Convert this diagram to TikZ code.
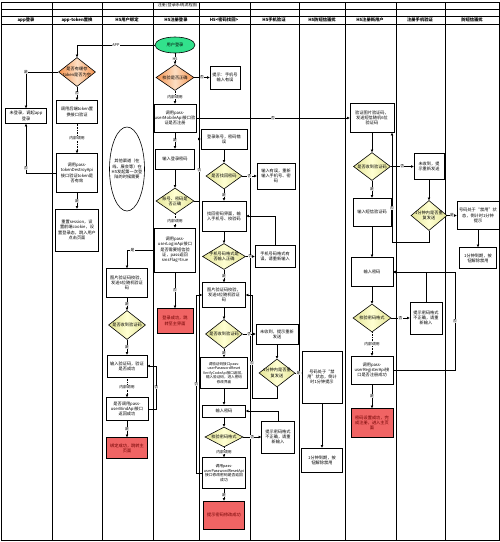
\documentclass[tikz,border=0pt]{standalone}
\usepackage{fontspec}
\setmainfont{Noto Sans CJK SC}
\usepackage{tikz}
\usetikzlibrary{arrows.meta,shapes.geometric}

\definecolor{dOrange}{RGB}{245,145,75}
\definecolor{dPeach}{RGB}{252,222,195}
\definecolor{dKhaki}{RGB}{228,228,150}
\definecolor{dCream}{RGB}{255,255,210}
\definecolor{okRed}{RGB}{240,100,100}
\definecolor{okText}{RGB}{110,0,0}
\definecolor{startGreen}{RGB}{50,225,140}

\begin{document}
\begin{tikzpicture}[x=1pt,y=-1pt,
    every node/.style={font=\fontsize{4.2}{5.2}\selectfont},
    box/.style={draw, line width=0.6pt, fill=white, align=center, inner sep=0.5pt},
    okbox/.style={box, fill=okRed, text=okText},
    dia/.style={diamond, draw, line width=0.6pt, inner sep=0pt},
    ydia/.style={dia, left color=dKhaki, right color=dKhaki, middle color=dCream},
    odia/.style={dia, left color=dOrange, right color=dOrange, middle color=dPeach},
    dtxt/.style={align=center, inner sep=0pt},
    arr/.style={-{Triangle[length=2.6pt,width=2.4pt]}, line width=0.55pt},
    call/.style={arr, densely dotted},
    lbl/.style={fill=white, inner sep=0.3pt, font=\fontsize{3.8}{4.5}\selectfont},
    lanehead/.style={font=\bfseries\fontsize{4.3}{5}\selectfont}
  ]
    \useasboundingbox (0,0) rectangle (500,542);
    % frame and swimlanes
    \draw[line width=0.75pt] (1,2) rectangle (499,540);
    \foreach \x in {52,102,153,199,250,299,345,396,445}
      \draw[line width=0.75pt] (\x,2) -- (\x,540);
    \foreach \y in {9,16,24}
      \draw[line width=0.6pt] (1,\y) -- (499,\y);
    \node[anchor=west] (title) at (154,5.5) {注册/登录系统流程图};
    \foreach \x/\t [count=\i] in {26/app登录, 77/app-token置换, 127/H5用户绑定,
        176/H5注册登录, 224/H5<密码找回>, 274/H5手机验证, 322/H5防短信骚扰,
        370/H5注册新用户, 420/注册手机验证, 472/防短信骚扰}
      \node[lanehead] (lane\i) at (\x,20) {\t};

    % app login
    \node[box, minimum width=41, minimum height=15] (nologin) at (26,116) {未登录，调起app\\登录};
    \node[odia, minimum width=37, minimum height=29, label={[dtxt]center:{是否有缓存\\token是否为空}}] (hastoken) at (77,72) {};
    \node[box, minimum width=41, minimum height=23] (swap) at (77,112) {调用后端token置\\换接口验证};
    \node[box, minimum width=41, minimum height=39] (destroy) at (77,173) {调用pass-\\tokenDestroyApi\\接口验证token是\\否有效};
    \node[box, minimum width=43, minimum height=42] (reset) at (77,230) {重置session，设\\置前端cookie，设\\置登录态，跳入用户\\点击页面};

    % H5 binding
    \node[draw, ellipse, line width=0.6pt, minimum width=35, minimum height=84, inner sep=0pt,
      label={[dtxt]center:{其他渠道（在\\线、展会等）在\\H5发起第一次登\\陆的时候需要}}] (other) at (127,169) {};
    \node[box, minimum width=41, minimum height=29] (imgcode1) at (127,283) {图片验证码校验，\\发送6位随机验证\\码};
    \node[ydia, minimum width=37, minimum height=29, label={[dtxt]center:是否收到验证码}] (gotcode1) at (127,325) {};
    \node[box, minimum width=40, minimum height=22] (inputcode1) at (127,366) {输入验证码，验证\\是否成功};
    \node[box, minimum width=42, minimum height=23] (bind) at (127,409) {是否调用pass-\\userBindApi接口\\返回成功};
    \node[okbox, minimum width=41, minimum height=21] (bindok) at (127,448) {绑定成功，跳转主\\页面};

    % H5 login
    \node[ellipse, draw, fill=startGreen, line width=0.6pt, minimum width=40, minimum height=16, inner sep=0pt] (start) at (175,45) {用户登录};
    \node[odia, minimum width=38, minimum height=26, label={[dtxt]center:校验是否正确}] (chkfmt) at (175,77.5) {};
    \node[box, minimum width=41, minimum height=28] (mobileapi) at (175,118) {调用pass-\\userMobileApi接口验\\证是否注册};
    \node[box, minimum width=39, minimum height=20] (inpwd0) at (175,159) {输入登录密码};
    \node[ydia, minimum width=38, minimum height=26, label={[dtxt]center:{账号、密码是\\否正确}}] (pwdok) at (175,201) {};
    \node[box, minimum width=41, minimum height=44] (loginapi) at (175,250) {调用pass-\\userLoginApi接口\\是否需要短信验\\证，pass返回\\smsFlag=true};
    \node[okbox, minimum width=36, minimum height=25] (loginok) at (175,321) {登录成功，跳\\转至主界面};

    % H5 password
    \node[box, minimum width=30, minimum height=23] (mobileerr) at (225,77.5) {提示：手机号\\输入有误};
    \node[box, minimum width=46, minimum height=20] (pwderr) at (224,139) {登录账号，密码错\\误};
    \node[ydia, minimum width=36, minimum height=26, label={[dtxt]center:是否找回密码}] (findq) at (224,176) {};
    \node[box, minimum width=44, minimum height=30] (findpwd) at (224,216) {找回密码界面，输\\入手机号、校验码};
    \node[ydia, minimum width=43, minimum height=26, label={[dtxt]center:{手机号码格式是\\否输入正确}}] (mobfmt) at (224,256.5) {};
    \node[box, minimum width=43, minimum height=25] (imgcode2) at (224,295) {图片验证码校验，\\发送6位随机验证\\码};
    \node[ydia, minimum width=37, minimum height=29, label={[dtxt]center:是否收到验证码}] (gotcode2) at (224,334) {};
    \node[box, minimum width=47, minimum height=31, font=\fontsize{3.6}{4.5}\selectfont] (verify) at (224,373) {调验证码接口pass-\\userPasswordReset\\VerifyCodeApi接口返回，\\输入验证码，进入密码\\修改界面};
    \node[box, minimum width=43, minimum height=12] (inpwd1) at (224,411) {输入密码};
    \node[ydia, minimum width=38, minimum height=20, label={[dtxt]center:校验密码格式}] (pwdfmt1) at (224,437) {};
    \node[box, minimum width=43, minimum height=31, font=\fontsize{3.8}{4.7}\selectfont] (resetapi) at (224,473) {调用pass-\\userPasswordResetApi\\接口修改密码是否返回\\成功};
    \node[okbox, minimum width=41, minimum height=28] (resetok) at (224,515) {提示密码修改成功};

    \node[box, minimum width=38, minimum height=26] (retry) at (276,176) {输入有误，重新\\输入手机号、密\\码};
    \node[box, minimum width=40, minimum height=22] (fmterr) at (275,256.5) {手机号码格式有\\误，请重新输入};
    \node[box, minimum width=42, minimum height=20] (nocode2) at (277,334) {未收到，提示重新\\发送};
    \node[ydia, minimum width=36, minimum height=28, label={[dtxt]center:{1分钟内是否重\\复发送}}] (repeat2) at (277,373) {};
    \node[box, minimum width=33, minimum height=32] (pwdtip1) at (278,437) {提示密码格式\\不正确，请重\\新输入};
    \node[box, minimum width=40, minimum height=52] (ban2) at (322,377) {号码处于“禁\\用”状态，倒计\\时1分钟提示};
    \node[box, minimum width=41, minimum height=24] (unban2) at (322,460) {1分钟到期，按\\钮解除禁用};

    % H5 register
    \node[box, minimum width=44, minimum height=29] (smscode) at (372,118) {验证图片验证码，\\发送短信随机6位\\验证码};
    \node[ydia, minimum width=37, minimum height=28, label={[dtxt]center:是否收到验证码}] (gotcode3) at (372,166.5) {};
    \node[box, minimum width=38, minimum height=28] (inputsms) at (372,212) {输入短信验证码};
    \node[box, minimum width=42, minimum height=29] (inpwd2) at (372,272) {输入密码};
    \node[ydia, minimum width=38, minimum height=28, label={[dtxt]center:校验密码格式}] (pwdfmt2) at (372,318) {};
    \node[box, minimum width=42, minimum height=28] (regapi) at (372,370) {调用pass-\\userRegisterApi接\\口是否注册成功};
    \node[okbox, minimum width=42, minimum height=29] (regok) at (372,423) {密码设置成功，完\\成注册，进入主页\\面};
    \node[box, minimum width=30, minimum height=26] (nocode3) at (429,166.5) {未收到，提\\示重新发送};
    \node[ydia, minimum width=36, minimum height=30, label={[dtxt]center:{1分钟内是否重\\复发送}}] (repeat3) at (429,215.5) {};
    \node[box, minimum width=32, minimum height=32] (pwdtip2) at (426,318) {提示密码格式\\不正确，请重\\新输入};
    \node[box, minimum width=42, minimum height=28] (ban3) at (478,215.5) {号码处于“禁用”状\\态，倒计时1分钟\\提示};
    \node[box, minimum width=37, minimum height=21] (unban3) at (478,258) {1分钟到期，按\\钮解除禁用};

    \coordinate (loop2) at (252,398);
    \coordinate (loop3) at (392,242);
    \coordinate (loop4) at (455,370);

    % connectors
    \draw[arr] (start.west) -| node[lbl,pos=0.25] {APP} (hastoken.north);
    \draw[arr] (hastoken.west) -| node[lbl,pos=0.5] {是} (nologin.north);
    \draw[arr] (hastoken.south) -- node[lbl] {否} (swap.north);
    \draw[call] (swap.south) -- node[lbl] {内部调用} (destroy.north);
    \draw[arr] (destroy.west) -| node[lbl,pos=0.55] {否} (nologin.south);
    \draw[arr] (destroy.south) -- node[lbl] {是} (reset.north);

    \draw[arr] (start.south) -- node[lbl] {H5} (chkfmt.north);
    \draw[arr] (chkfmt.east) -- node[lbl] {否} (mobileerr.west);
    \draw[call] (chkfmt.south) -- node[lbl] {内部调用} (mobileapi.north);
    \draw[arr] (mobileapi.east) -- node[lbl] {否} (mobileapi.east -| smscode.west);
    \draw[arr] (mobileapi.south) -- node[lbl] {是} (inpwd0.north);
    \draw[arr] (inpwd0) -- (pwdok);
    \draw[arr] (pwdok.east) -- ++(5,0) |- node[lbl,pos=0.25] {否} (pwderr.west);
    \draw[call] (pwdok.south) -- node[lbl] {内部调用} (loginapi.north);
    \draw[arr] (loginapi.west) -| node[lbl,pos=0.4] {是} (imgcode1.north);
    \draw[arr] (loginapi.south) -- node[lbl] {否} (loginok.north);

    \draw[arr] (imgcode1.south) -- node[lbl] {是} (gotcode1.north);
    \draw[arr] (gotcode1.south) -- node[lbl] {是} (inputcode1.north);
    \draw[call] (inputcode1.south) -- node[lbl] {内部调用} (bind.north);
    \draw[arr] (bind.south) -- node[lbl] {是} (bindok.north);
    \draw[arr] (bind.east) -- ++(8,0) |- node[lbl,pos=0.25] {否} (inputcode1.east);

    \draw[arr] (pwderr) -- (findq);
    \draw[arr] (findq.east) -- node[lbl] {否} (retry.west);
    \draw[arr] (findq.south) -- node[lbl] {是} (findpwd.north);
    \draw[arr] (findpwd) -- (mobfmt);
    \draw[arr] (mobfmt.east) -- node[lbl] {否} (fmterr.west);
    \draw[arr] (fmterr.north) |- (findpwd.east);
    \draw[arr] (mobfmt.south) -- node[lbl] {是} (imgcode2.north);
    \draw[arr] (imgcode2) -- (gotcode2);
    \draw[arr] (gotcode2.east) -- node[lbl] {否} (nocode2.west);
    \draw[arr] (nocode2) -- (repeat2);
    \draw[arr] (repeat2.east) -- node[lbl] {是} (repeat2.east -| ban2.west);
    \draw[arr] (ban2) -- (unban2);
    \draw[arr] (repeat2.south) |- (loop2) |- node[lbl,pos=0.17] {否} (imgcode2.east);
    \draw[arr] (gotcode2.south) -- node[lbl] {是} (verify.north);
    \draw[arr] (verify) -- (inpwd1);
    \draw[arr] (inpwd1) -- (pwdfmt1);
    \draw[arr] (pwdfmt1.east) -- node[lbl] {否} (pwdfmt1.east -| pwdtip1.west);
    \draw[arr] (pwdtip1.north) |- (inpwd1.east);
    \draw[call] (pwdfmt1.south) -- node[lbl] {内部调用} (resetapi.north);
    \draw[arr] (resetapi.south) -- node[lbl] {是} (resetok.north);
    \draw[arr] (resetapi.west) -- ++(-6,0) |- node[lbl,pos=0.25] {否} (imgcode2.west);

    \draw[arr] (smscode) -- (gotcode3);
    \draw[arr] (gotcode3.east) -- node[lbl] {否} (nocode3.west);
    \draw[arr] (nocode3) -- (repeat3);
    \draw[arr] (repeat3.east) -- node[lbl] {是} (ban3.west);
    \draw[arr] (ban3) -- (unban3);
    \draw[arr] (repeat3.south) |- (loop3) -- node[lbl,pos=0.31] {否} (loop3 |- smscode.south);
    \draw[arr] (gotcode3.south) -- node[lbl] {是} (inputsms.north);
    \draw[arr] (inputsms) -- (inpwd2);
    \draw[arr] (inpwd2) -- (pwdfmt2);
    \draw[arr] (pwdfmt2.east) -- node[lbl] {否} (pwdtip2.west);
    \draw[arr] (pwdtip2.north) |- (inpwd2.east);
    \draw[call] (pwdfmt2.south) -- node[lbl] {内部调用} (regapi.north);
    \draw[arr] (regapi.south) -- node[lbl] {是} (regok.north);
    \draw[arr] (regapi.east) -- (loop4) |- node[lbl,pos=0.25] {否} (inpwd2.east);
  \end{tikzpicture}
\end{document}
